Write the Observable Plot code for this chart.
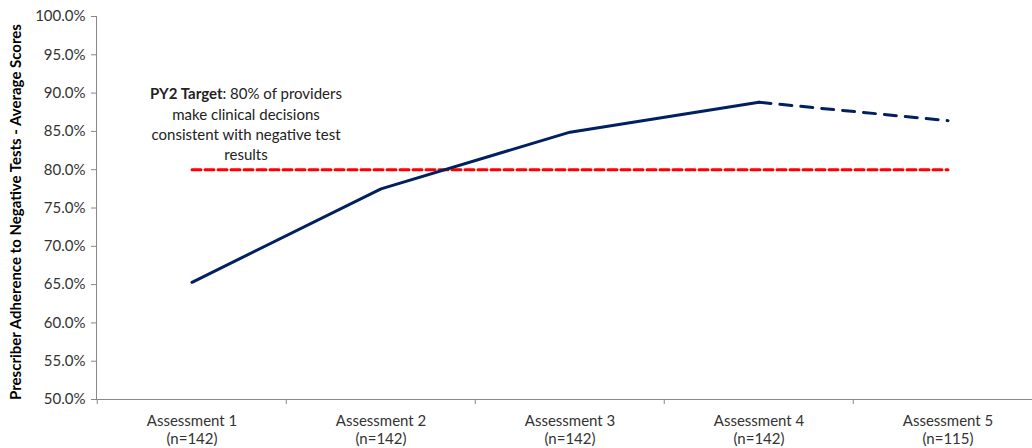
<!DOCTYPE html>
<html>
<head>
<meta charset="utf-8">
<script src="https://cdn.jsdelivr.net/npm/d3@7"></script>
<script src="https://cdn.jsdelivr.net/npm/@observablehq/plot@0.6"></script>
<style>
  html, body { margin: 0; padding: 0; background: #fff; }
  #chart svg { display: block; }
</style>
</head>
<body>
<div id="chart"></div>
<script>
const categories = ["Assessment 1", "Assessment 2", "Assessment 3", "Assessment 4", "Assessment 5"];
const sampleSizes = [142, 142, 142, 142, 115];
const scores = [65.3, 77.5, 84.9, 88.8, 86.4];
const targetValue = 80;
const yTicks = [50, 55, 60, 65, 70, 75, 80, 85, 90, 95, 100];
const yLabel = "Prescriber Adherence to Negative Tests - Average Scores";
const annotationBold = "PY2 Target";
const annotationLines = [": 80% of providers", "make clinical decisions", "consistent with negative test", "results"];

const rows = categories.map((c, i) => ({cat: c, score: scores[i]}));
const solid = rows.slice(0, 4);
const dashed = rows.slice(3);
const targetRows = [categories[0], categories[categories.length - 1]].map(c => ({cat: c, v: targetValue}));
const labelFor = new Map(categories.map((c, i) => [c, `${c}\n(n=${sampleSizes[i]})`]));

const font = "Lato, 'Open Sans', sans-serif";
const chart = Plot.plot({
  width: 1032,
  height: 448,
  marginLeft: 96,
  marginRight: 0,
  marginTop: 16,
  marginBottom: 49,
  style: {fontFamily: font, fontSize: "14px", color: "#333", background: "#fff"},
  x: {type: "band", domain: categories, range: [96, 1043.5], padding: 0},
  y: {domain: [50, 100]},
  marks: [
    Plot.frame({anchor: "left", stroke: "#888"}),
    Plot.frame({anchor: "bottom", stroke: "#888"}),
    Plot.axisY({ticks: yTicks, tickSize: 5, stroke: "#888", tickPadding: 6, tickFormat: d => d.toFixed(1) + "%", label: null, fontSize: 15, fill: "#333"}),
    Plot.axisX({tickSize: 5, stroke: "#888", text: null, dx: -94.75, label: null}),
    Plot.axisX({tickSize: 0, tickPadding: 14, tickFormat: d => labelFor.get(d), label: null, fontSize: 15, lineHeight: 1.2, fill: "#333"}),
    Plot.text([yLabel], {frameAnchor: "left", dx: -80, dy: 4, rotate: -90, textAnchor: "middle", fontWeight: "bold", fontSize: 15, fill: "#000"}),
    Plot.line(targetRows, {x: "cat", y: "v", stroke: "#ff0000", strokeWidth: 3, strokeDasharray: "9,4"}),
    Plot.line(solid, {x: "cat", y: "score", stroke: "#002060", strokeWidth: 3}),
    Plot.line(dashed, {x: "cat", y: "score", stroke: "#002060", strokeWidth: 3, strokeDasharray: "12,9"}),
    Plot.text([annotationLines.join("\n")], {x: () => categories[0], y: () => 86.05, dx: 54, text: d => d, lineHeight: 1.35, fontSize: 15, fill: "#222", className: "annot"})
  ]
});
document.getElementById("chart").appendChild(chart);

// Make the first annotation line start with a bold run
const first = d3.select(chart).select(".annot text tspan");
if (!first.empty()) {
  const rest = first.text();
  first.text(null);
  first.append("tspan").attr("font-weight", "bold").text(annotationBold);
  first.append("tspan").text(rest);
}
</script>
</body>
</html>
